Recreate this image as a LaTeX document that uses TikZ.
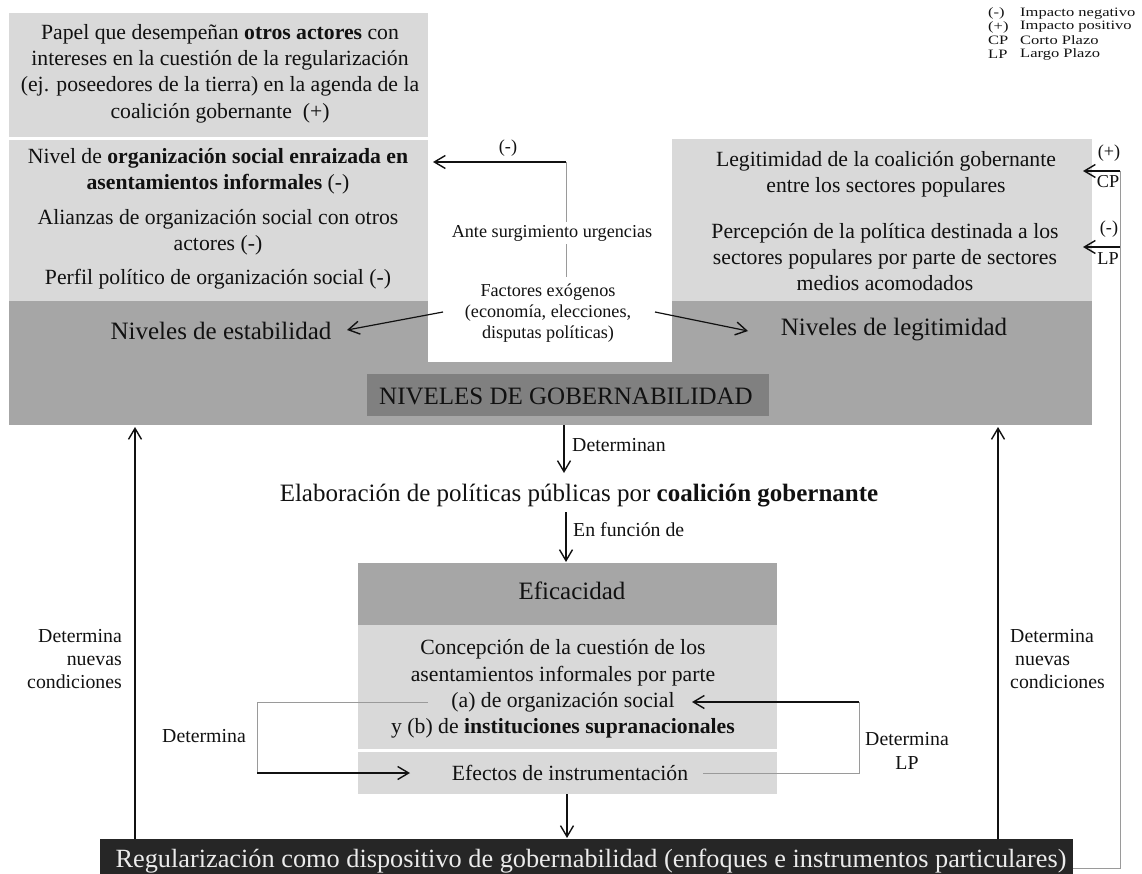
\documentclass[tikz,border=0pt]{standalone}
\usepackage{fontspec}
\setmainfont{Liberation Serif}
\usetikzlibrary{arrows.meta}
\definecolor{lgray}{HTML}{D9D9D9}
\definecolor{mgray}{HTML}{A6A6A6}
\definecolor{dgray}{HTML}{808080}
\definecolor{boxblack}{HTML}{262626}
\definecolor{thinc}{HTML}{9A9A9A}
\definecolor{ink}{HTML}{111111}
\newcommand{\szBig}{\fontsize{25}{30}\selectfont}
\newcommand{\szReg}{\fontsize{26.3}{30}\selectfont}
\newcommand{\szMed}{\fontsize{21.7}{26.3}\selectfont}
\newcommand{\szSm}{\fontsize{19.8}{23.4}\selectfont}
\newcommand{\szXs}{\fontsize{18.2}{21}\selectfont}
\newcommand{\szLeg}{\fontsize{12.8}{13}\selectfont}
\newcommand{\legw}[1]{\scalebox{1.29}[1]{#1}}
\begin{document}
\begin{tikzpicture}[x=1pt,y=-1pt,
  bx/.style={inner sep=0pt, outer sep=0pt, draw=none},
  txt/.style={inner sep=0pt, align=center, text=ink},
  arr/.style={draw=ink, line width=1.4pt, -{Straight Barb[length=11pt,width=13pt,line width=1.4pt]}},
  thinl/.style={draw=thinc, line width=1pt}]
\useasboundingbox (0,0) rectangle (1142,874);

% ---------- boxes ----------
\node[bx, fill=lgray, minimum width=419pt, minimum height=124pt] (topbox) at (218.5,75) {};
\node[bx, fill=lgray, minimum width=419pt, minimum height=161pt] (leftbox) at (218.5,220.5) {};
\node[bx, fill=lgray, minimum width=420pt, minimum height=162pt] (rightbox) at (882,220) {};
\node[bx, fill=mgray, minimum width=1083pt, minimum height=124pt] (band) at (550.5,363) {};
\node[bx, fill=white, minimum width=244pt, minimum height=223pt] (whitecut) at (550,250.5) {};
\node[bx, fill=dgray, minimum width=402pt, minimum height=42pt] (nivgob) at (568,395) {};
\node[bx, fill=mgray, minimum width=419pt, minimum height=62pt] (eficbox) at (567.5,594) {};
\node[bx, fill=lgray, minimum width=419pt, minimum height=124pt] (concbox) at (567.5,687) {};
\node[bx, fill=lgray, minimum width=419pt, minimum height=42pt] (efecbox) at (567.5,773) {};
\node[bx, fill=boxblack, minimum width=973pt, minimum height=37pt] (regbox) at (586.5,857.5) {};

% ---------- texts in upper part ----------
\node[txt, font=\szMed] (toptext) at (220,73.5) {Papel que desempeñan \textbf{otros actores} con\\intereses en la cuestión de la regularización\\(ej. poseedores de la tierra) en la agenda de la\\coalición gobernante~~(+)};
\node[txt, font=\szMed] (nivel) at (218,171) {Nivel de \textbf{organización social enraizada en}\\\textbf{asentamientos informales} (-)};
\node[txt, font=\szMed] (alianzas) at (218,232.5) {Alianzas de organización social con otros\\actores (-)};
\node[txt, font=\szMed] (perfil) at (218,279) {Perfil político de organización social (-)};
\node[txt, font=\szMed] (legit1) at (886,174) {Legitimidad de la coalición gobernante\\entre los sectores populares};
\node[txt, font=\szMed] (percep) at (885,257) {Percepción de la política destinada a los\\sectores populares por parte de sectores\\medios acomodados};
\node[txt, font=\szBig] (estab) at (221,331) {Niveles de estabilidad};
\node[txt, font=\szBig] (legitn) at (894,330) {Niveles de legitimidad};
\node[txt, font=\szBig] (nivgobtext) at (566,396) {NIVELES DE GOBERNABILIDAD};

% ---------- legend ----------
\node[txt, font=\szLeg, anchor=west] (lg1a) at (988,13.5) {\legw{(-)}};
\node[txt, font=\szLeg, anchor=west] (lg1b) at (1020,13.5) {\legw{Impacto negativo}};
\node[txt, font=\szLeg, anchor=west] (lg2a) at (988,27) {\legw{(+)}};
\node[txt, font=\szLeg, anchor=west] (lg2b) at (1020,27) {\legw{Impacto positivo}};
\node[txt, font=\szLeg, anchor=west] (lg3a) at (988,40.5) {\legw{CP}};
\node[txt, font=\szLeg, anchor=west] (lg3b) at (1020,40.5) {\legw{Corto Plazo}};
\node[txt, font=\szLeg, anchor=west] (lg4a) at (988,54) {\legw{LP}};
\node[txt, font=\szLeg, anchor=west] (lg4b) at (1020,54) {\legw{Largo Plazo}};

% ---------- middle (exogenous factors) ----------
\coordinate (urgtop) at (566,162);
\coordinate (nivelin) at (433,162);
\coordinate (factop) at (566,277);
\draw[thinl] (urgtop) -- (factop);
\draw[arr] (urgtop) -- (nivelin);
\node[txt, font=\szXs] (minuslab) at (508,148) {(-)};
\node[txt, font=\szXs, fill=white, inner sep=3pt] (urgencias) at (552,233) {Ante surgimiento urgencias};
\node[txt, font=\szXs] (factores) at (548,313) {Factores exógenos\\(economía, elecciones,\\disputas políticas)};
\coordinate (fL) at (443,312);
\coordinate (estabR) at (347,330);
\coordinate (fR) at (655,312);
\coordinate (legitL) at (748,331);
\draw[arr, line width=1.2pt] (fL) -- (estabR);
\draw[arr, line width=1.2pt] (fR) -- (legitL);

% ---------- right side CP / LP ----------
\coordinate (rline1) at (1120,171);
\coordinate (rline2) at (1120,247);
\coordinate (rbot) at (1120,868);
\coordinate (regR) at (1073,868);
\coordinate (cpTip) at (1083,171);
\coordinate (lpTip) at (1083,247);
\draw[thinl] (regR) -- (rbot) -- (rline1);
\draw[arr] (rline1) -- (cpTip);
\draw[arr] (rline2) -- (lpTip);
\node[txt, font=\szXs] (cpplus) at (1109,153) {(+)};
\node[txt, font=\szXs] (cplab) at (1108,182) {CP};
\node[txt, font=\szXs] (lpminus) at (1109,229) {(-)};
\node[txt, font=\szXs] (lplab) at (1108,259) {LP};

% ---------- lower flow ----------
\coordinate (d1s) at (564,425);
\coordinate (d1e) at (564,473);
\draw[arr] (d1s) -- (d1e);
\node[txt, font=\szSm, anchor=west] (determinan) at (572,445) {Determinan};
\node[txt, font=\szBig] (elab) at (579,496) {Elaboración de políticas públicas por \textbf{coalición gobernante}};
\coordinate (d2s) at (566,512);
\coordinate (d2e) at (566,562);
\draw[arr] (d2s) -- (d2e);
\node[txt, font=\szSm, anchor=west] (enfuncion) at (573,530) {En función de};

\node[txt, font=\szBig] (efictext) at (572,591) {Eficacidad};
\node[txt, font=\szMed] (conctext) at (563,689) {Concepción de la cuestión de los\\asentamientos informales por parte\\(a) de organización social\\y (b) de \textbf{instituciones supranacionales}};
\node[txt, font=\szMed] (efectext) at (570,773) {Efectos de instrumentación};
\node[txt, font=\szReg, text=white!92!black] (regtext) at (591,861) {Regularización como dispositivo de gobernabilidad (enfoques e instrumentos particulares)};

\coordinate (d3s) at (567,794);
\coordinate (d3e) at (567,838);
\draw[arr] (d3s) -- (d3e);

% left bracket
\coordinate (lbA) at (428,702);
\coordinate (lbB) at (257,702);
\coordinate (lbC) at (257,773);
\coordinate (lbTip) at (410,773);
\draw[thinl] (lbA) -- (lbB) -- (lbC);
\draw[arr] (lbC) -- (lbTip);
\node[txt, font=\szSm] (determina1) at (204,736) {Determina};

% right bracket
\coordinate (rbA) at (859,702);
\coordinate (rbTip) at (692,702);
\coordinate (rbB) at (859,773);
\coordinate (rbC) at (703,773);
\draw[thinl] (rbA) -- (rbB) -- (rbC);
\draw[arr] (rbA) -- (rbTip);
\node[txt, font=\szSm] (determinalp) at (907,751) {Determina\\LP};

% big up arrows
\coordinate (luS) at (135,839);
\coordinate (luE) at (135,427);
\draw[arr] (luS) -- (luE);
\node[txt, font=\szSm, anchor=east, align=right] (detleft) at (122,659) {Determina\\nuevas\\condiciones};
\coordinate (ruS) at (998,839);
\coordinate (ruE) at (998,427);
\draw[arr] (ruS) -- (ruE);
\node[txt, font=\szSm, anchor=west, align=left] (detright) at (1010,659) {Determina\\\hspace*{5pt}nuevas\\condiciones};
\end{tikzpicture}
\end{document}
